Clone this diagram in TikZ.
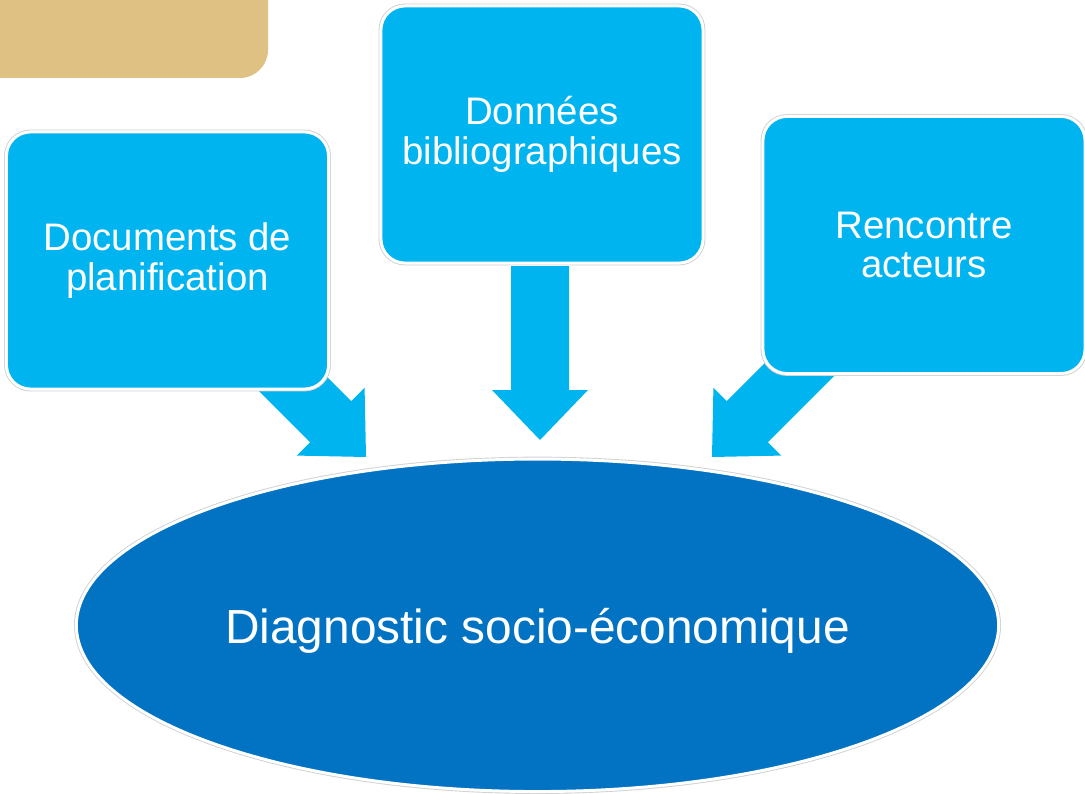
\documentclass[tikz,border=0pt]{standalone}
\usepackage{fontspec}
\setmainfont{Liberation Sans}
\usetikzlibrary{calc}
\usetikzlibrary{shapes.geometric}
\definecolor{tanfill}{HTML}{DFC183}
\definecolor{boxcyan}{HTML}{00B4F0}
\definecolor{ovalblue}{HTML}{0173C2}
\tikzset{
  source/.style = {rectangle, rounded corners=0.6cm, fill=boxcyan, draw=white,
    line width=2.1pt, preaction={draw=black!18, line width=3.4pt},
    minimum width=8.05cm, minimum height=6.425cm, inner sep=0pt,
    align=center, text=white, font=\fontsize{27.3}{28}\selectfont},
  diagoval/.style = {ellipse, fill=ovalblue, draw=white,
    line width=2.1pt, preaction={draw=black!18, line width=3.4pt},
    minimum width=23.05cm, minimum height=8.31cm, inner sep=0pt,
    text height=25.2pt, text depth=0pt,
    text=white, font=\fontsize{34}{36}\selectfont},
  fatarrow/.pic = {\fill[boxcyan] (0,0) -- (-48,-50) -- (-29,-50) -- (-29,-174)
    -- (29,-174) -- (29,-50) -- (48,-50) -- cycle;}
}

\begin{document}
\begin{tikzpicture}[x=0.025cm, y=-0.025cm]
      \path[use as bounding box, clip] (0,0) rectangle (1085,794);

      \fill[tanfill, rounded corners=0.7cm] (-40,-40) rectangle (268,78);

      \coordinate (tipL) at (366,457);
      \coordinate (tipM) at (540,440);
      \coordinate (tipR) at (712,457);
      \pic[rotate=45] at (tipL) {fatarrow};
      \pic at (tipM) {fatarrow};
      \pic[rotate=-45] at (tipR) {fatarrow};

      \node[diagoval] (diag) at (537.5,625.3) {Diagnostic socio-économique};

      \node[source] (plan) at (167.5,260.5) {Documents de\\planification};
      \node[source] (biblio) at (542,134.5) {Données\\bibliographiques};
      \node[source] (acteurs) at (924,245) {Rencontre\\acteurs};
    \end{tikzpicture}
\end{document}
